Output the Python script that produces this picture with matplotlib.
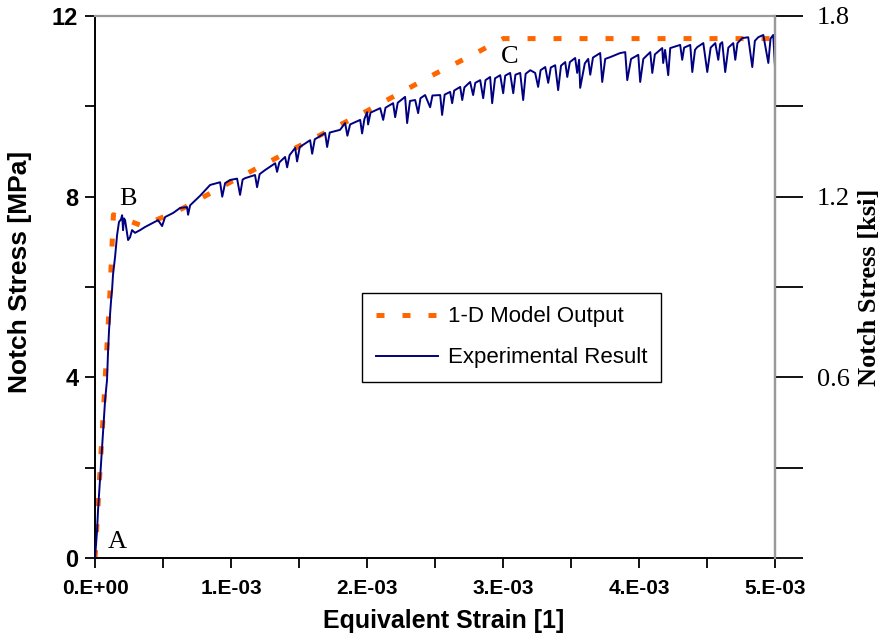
import numpy as np
import matplotlib
matplotlib.use('Agg')
import matplotlib.pyplot as plt
from matplotlib.ticker import FixedLocator

# 1-D model output (strain in 1e-3, stress in MPa)
model_strain_milli = [0.0, 0.066, 0.11, 0.135, 0.35, 0.65, 1.0, 1.5, 2.0, 2.5, 2.75, 3.0, 5.0]
model_stress = [0.0, 3.5, 5.9, 7.6, 7.35, 7.75, 8.33, 9.12, 9.9, 10.72, 11.1, 11.5, 11.5]

exp_strain_milli = [
    0.000, 0.007, 0.015, 0.022, 0.029, 0.037, 0.044, 0.051, 0.059, 0.066,
    0.074, 0.081, 0.088, 0.096, 0.103, 0.110, 0.118, 0.125, 0.132, 0.147,
    0.162, 0.176, 0.191, 0.199, 0.206, 0.213, 0.221, 0.243, 0.257, 0.272,
    0.294, 0.331, 0.368, 0.426, 0.463, 0.493, 0.515, 0.574, 0.625, 0.676,
    0.684, 0.699, 0.772, 0.846, 0.919, 0.935, 0.956, 0.993, 1.044, 1.066,
    1.085, 1.103, 1.176, 1.191, 1.210, 1.250, 1.324, 1.338, 1.355, 1.397,
    1.412, 1.430, 1.471, 1.485, 1.505, 1.581, 1.596, 1.615, 1.691, 1.706,
    1.725, 1.801, 1.838, 1.855, 1.875, 1.949, 1.963, 1.980, 2.000, 2.007,
    2.025, 2.096, 2.118, 2.135, 2.191, 2.206, 2.225, 2.279, 2.294, 2.315,
    2.353, 2.375, 2.392, 2.426, 2.463, 2.480, 2.537, 2.551, 2.570, 2.610,
    2.625, 2.640, 2.684, 2.699, 2.715, 2.757, 2.779, 2.795, 2.831, 2.853,
    2.870, 2.904, 2.919, 2.940, 2.978, 3.000, 3.015, 3.051, 3.074, 3.090,
    3.125, 3.147, 3.165, 3.199, 3.235, 3.257, 3.275, 3.309, 3.331, 3.350,
    3.382, 3.404, 3.425, 3.456, 3.471, 3.490, 3.529, 3.544, 3.558, 3.566,
    3.600, 3.625, 3.640, 3.660, 3.713, 3.728, 3.750, 3.787, 3.860, 3.897,
    3.912, 3.940, 3.993, 4.007, 4.030, 4.081, 4.096, 4.115, 4.169, 4.176,
    4.190, 4.213, 4.228, 4.301, 4.316, 4.330, 4.375, 4.390, 4.410, 4.426,
    4.471, 4.500, 4.525, 4.559, 4.581, 4.595, 4.610, 4.632, 4.655, 4.691,
    4.706, 4.722, 4.757, 4.801, 4.831, 4.850, 4.875, 4.912, 4.949, 4.965,
    4.985, 5.000,
]
exp_stress = [
    0.00, 0.29, 0.62, 1.06, 1.39, 1.77, 2.06, 2.39, 2.83, 3.17,
    3.50, 3.72, 3.94, 4.60, 5.05, 5.38, 5.71, 5.93, 6.27, 6.66,
    7.15, 7.44, 7.50, 7.59, 7.26, 7.52, 7.48, 7.04, 7.10, 7.26,
    7.20, 7.26, 7.33, 7.42, 7.48, 7.35, 7.55, 7.64, 7.75, 7.77,
    7.60, 7.81, 8.02, 8.26, 8.32, 8.00, 8.30, 8.37, 8.40, 8.04,
    8.38, 8.41, 8.48, 8.21, 8.50, 8.59, 8.74, 8.55, 8.76, 8.88,
    8.65, 8.92, 9.08, 8.78, 9.10, 9.25, 8.95, 9.27, 9.41, 9.10,
    9.42, 9.48, 9.63, 9.35, 9.60, 9.70, 9.40, 9.72, 9.87, 9.60,
    9.86, 9.96, 9.70, 9.97, 10.07, 9.76, 10.08, 10.21, 9.63, 10.12,
    10.14, 9.85, 10.18, 10.25, 9.98, 10.24, 10.25, 9.81, 10.26, 10.32,
    10.07, 10.35, 10.43, 10.14, 10.42, 10.54, 10.25, 10.52, 10.58, 10.18,
    10.58, 10.65, 10.07, 10.62, 10.69, 10.29, 10.68, 10.74, 10.29, 10.70,
    10.74, 10.14, 10.72, 10.80, 10.74, 10.43, 10.80, 10.87, 10.52, 10.86,
    10.91, 10.36, 10.90, 10.98, 10.65, 10.98, 11.07, 10.74, 11.03, 10.41,
    10.95, 11.05, 10.70, 11.08, 11.18, 10.54, 11.05, 11.09, 11.18, 11.20,
    10.58, 11.05, 11.14, 10.54, 11.05, 11.20, 10.74, 11.15, 11.29, 10.96,
    11.25, 10.69, 11.29, 11.36, 11.03, 11.30, 11.36, 10.76, 11.25, 11.31,
    11.40, 10.76, 11.30, 11.40, 11.03, 11.38, 11.42, 10.76, 11.30, 11.40,
    11.03, 11.40, 11.51, 11.53, 10.87, 11.45, 11.53, 11.58, 10.96, 11.50,
    11.58, 10.76,
]

x_ticks_milli = [0, 1, 2, 3, 4, 5]
x_ticklabels = ['0.E+00', '1.E-03', '2.E-03', '3.E-03', '4.E-03', '5.E-03']
y_ticks = [0, 4, 8, 12]
ksi_ticks = [0.6, 1.2, 1.8]

sans = ['Liberation Sans', 'DejaVu Sans']
serif = ['Liberation Serif', 'DejaVu Serif']

fig = plt.figure(figsize=(8.8, 6.4), dpi=100)
ax = fig.add_axes([0.108, 0.128, 0.773, 0.847])

model_strain = np.array(model_strain_milli) * 1e-3
exp_strain = np.array(exp_strain_milli) * 1e-3

ax.plot(model_strain, model_stress, color='#FF6600', lw=3.6,
        linestyle=(0, (1.6, 3.6)), label='1-D Model Output', zorder=2)
ax.plot(exp_strain, exp_stress, color='#000080', lw=1.4,
        label='Experimental Result', zorder=3)

ax.set_xlim(0, 5e-3)
ax.set_ylim(0, 12)
ax.set_xticks(np.array(x_ticks_milli) * 1e-3)
ax.set_xticklabels(x_ticklabels, fontsize=15, fontweight='bold', family=sans)
ax.xaxis.set_minor_locator(FixedLocator(np.arange(0.5, 5, 1.0) * 1e-3))
ax.set_yticks(y_ticks)
ax.set_yticklabels([str(v) for v in y_ticks], fontsize=17, fontweight='bold', family=sans)
ax.yaxis.set_minor_locator(FixedLocator([2, 6, 10]))
ax.tick_params(which='both', direction='out', length=7, width=1.3, color='black')
ax.tick_params(axis='x', pad=8)
ax.tick_params(axis='y', pad=5)

for side in ['left', 'bottom']:
    ax.spines[side].set_color('black')
    ax.spines[side].set_linewidth(1.4)
for side in ['top', 'right']:
    ax.spines[side].set_color('#999999')
    ax.spines[side].set_linewidth(1.6)

ax.set_xlabel('Equivalent Strain [1]', fontsize=18, fontweight='bold', family=sans)
ax.set_ylabel('Notch Stress [MPa]', fontsize=19, fontweight='bold', family=sans)
ax.xaxis.set_label_coords(0.512, -0.094)
ax.yaxis.set_label_coords(-0.093, 0.528)

ax2 = ax.twinx()
ax2.set_ylim(0, 1.8)
ax2.set_yticks(ksi_ticks)
ax2.set_yticklabels([f'{v:.1f}' for v in ksi_ticks], fontsize=19, family=serif)
ax2.yaxis.set_minor_locator(FixedLocator([0, 0.3, 0.9, 1.5]))
ax2.tick_params(which='both', direction='out', length=20, width=1.3, color='black', pad=10)
for side in ['top', 'left', 'bottom']:
    ax2.spines[side].set_visible(False)
ax2.spines['right'].set_color('#999999')
ax2.spines['right'].set_linewidth(1.6)
ax2.set_ylabel('Notch Stress [ksi]', fontsize=19, fontweight='bold', family=serif, labelpad=6)

ax.text(1.6e-4, 0.35, 'A', fontsize=19, family=serif, ha='center', va='center')
ax.text(2.4e-4, 7.95, 'B', fontsize=19, family=serif, ha='center', va='center')
ax.text(3.05e-3, 11.1, 'C', fontsize=19, family=serif, ha='center', va='center')

leg = ax.legend(loc='upper left', bbox_to_anchor=(0.393, 0.489), borderaxespad=0,
                frameon=True, fancybox=False, edgecolor='black', framealpha=1,
                prop={'family': sans, 'size': 16}, handlelength=2.8,
                handletextpad=0.45, borderpad=0.6, labelspacing=0.9)
leg.get_frame().set_linewidth(1.0)

fig.savefig('out.png', dpi=100)
